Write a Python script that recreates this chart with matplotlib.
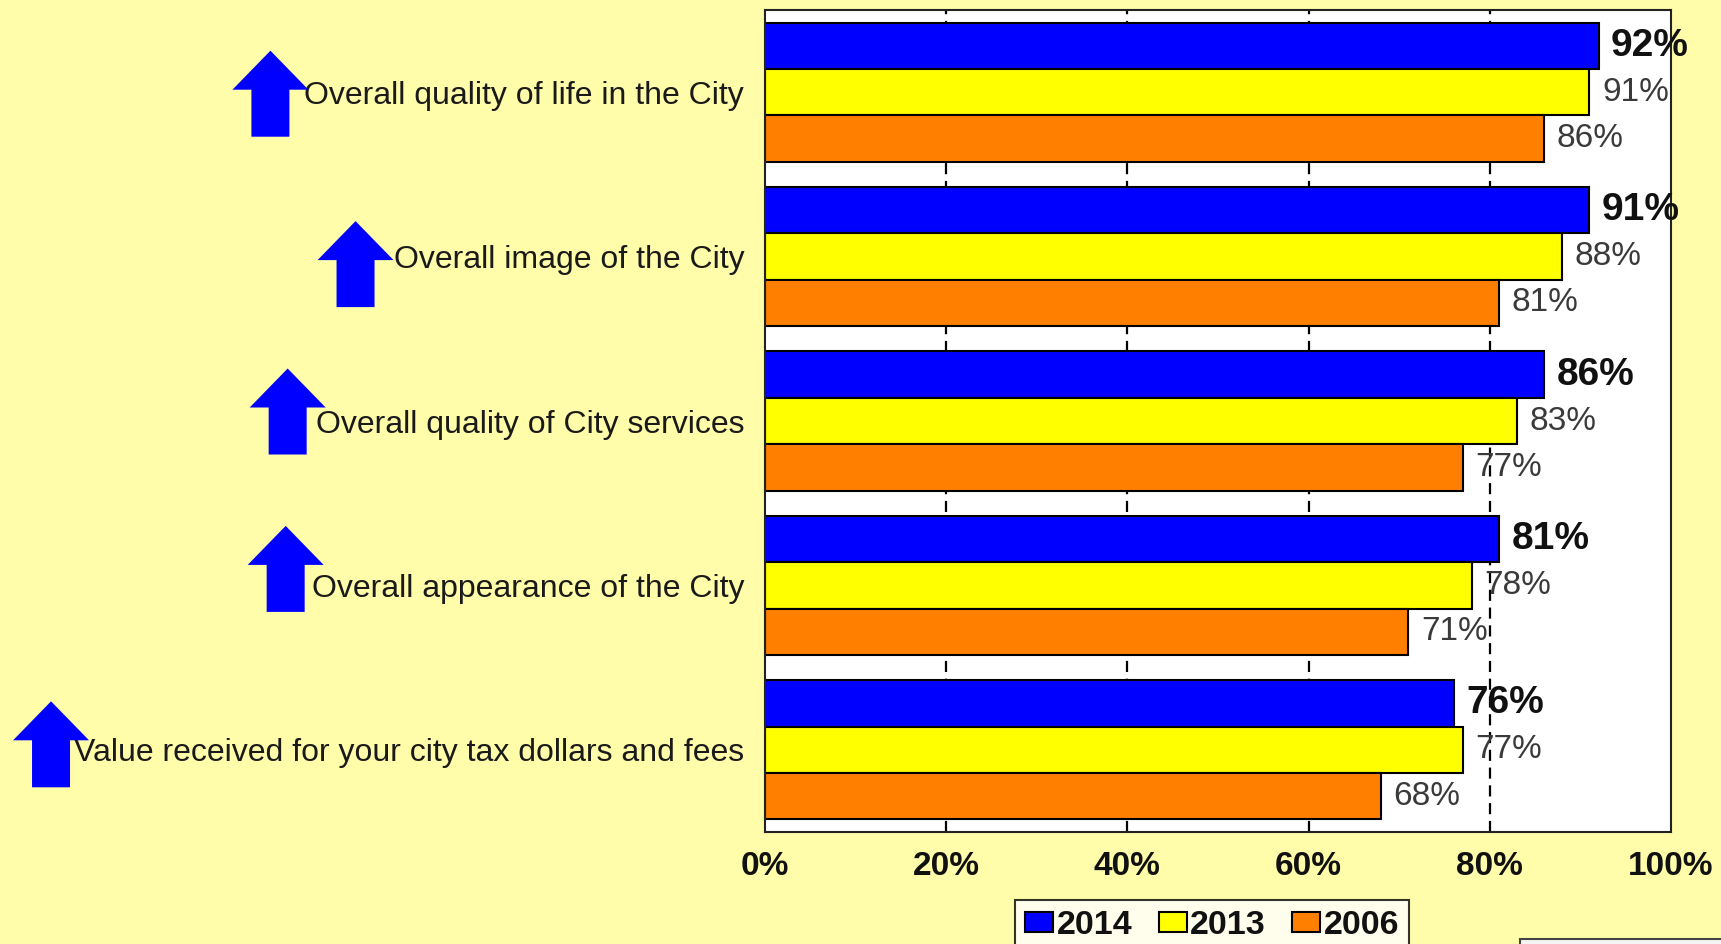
import numpy as np
import matplotlib
matplotlib.use("Agg")
import matplotlib.pyplot as plt
from matplotlib.patches import Polygon, Rectangle
from matplotlib.transforms import IdentityTransform

plt.rcParams['font.family'] = ['Liberation Sans', 'DejaVu Sans']

# survey results, top row first
categories = ['Overall quality of life in the City',
              'Overall image of the City',
              'Overall quality of City services',
              'Overall appearance of the City',
              'Value received for your city tax dollars and fees']
v2014 = [92, 91, 86, 81, 76]
v2013 = [91, 88, 83, 78, 77]
v2006 = [86, 81, 77, 71, 68]
years = ['2014', '2013', '2006']
xticks = [0, 20, 40, 60, 80, 100]

# hand nudges (px) for the trend arrows: left of label start, up from label centre
arrow_dx = [-34, -38, -28, -26, -23]
arrow_dy = [2, -4, 13, 20, 9]

bg = '#FFFDA9'
W, H = 1721, 944
fig = plt.figure(figsize=(W / 100, H / 100), dpi=100, facecolor=bg)
ax = fig.add_axes([765 / W, 112 / H, 906 / W, 822 / H])
ax.set_facecolor('white')

ypos = np.arange(len(categories))[::-1]
h = 0.282
series = [(v2014, '#0000FF', h), (v2013, '#FFFF00', 0), (v2006, '#FF8000', -h)]
bars = []
for (vals, col, off), yr in zip(series, years):
    b = ax.barh(ypos + off, vals, height=h, color=col, edgecolor='black',
                linewidth=1.5, label=yr, zorder=2)
    bars.append(b)

# value labels: 2014 in bold, the others regular
for i, (vals, col, off) in enumerate(series):
    for y, v in zip(ypos, vals):
        if i == 0:
            ax.annotate(f'{v}%', (v, y + off), xytext=(9, 0), textcoords='offset points',
                        va='center', ha='left', fontsize=28, fontweight='bold',
                        color='#111111', zorder=4)
        else:
            ax.annotate(f'{v}%', (v, y + off), xytext=(9, 0), textcoords='offset points',
                        va='center', ha='left', fontsize=24, color='#3a3a3a', zorder=4)

ax.set_xlim(0, 100)
ax.set_ylim(-0.5, len(categories) - 0.5)
ax.set_xticks(xticks)
ax.set_xticklabels([f'{t}%' for t in xticks], fontsize=24, fontweight='bold', color='#111111')
ax.set_yticks(ypos)
ax.set_yticklabels(categories, fontsize=23, color='#1a1a1a')
ax.tick_params(axis='x', length=0, pad=14)
ax.tick_params(axis='y', length=0, pad=15)

# dashed vertical gridlines behind the bars
for t in xticks[1:-1]:
    ax.axvline(t, color='black', linewidth=1.6, linestyle=(0, (5, 3)), zorder=1)

for s in ax.spines.values():
    s.set_linewidth(1.5)
    s.set_color('#222222')

leg = ax.legend(handles=bars, loc='upper left', bbox_to_anchor=(1015 / W, 1 - 900 / H),
                bbox_transform=fig.transFigure, ncol=3, frameon=True, fancybox=False,
                prop={'weight': 'bold', 'size': 24.5}, handlelength=0.82, handleheight=0.52,
                handletextpad=0.1, columnspacing=0.78, borderpad=0.3, borderaxespad=0)
leg.get_frame().set_edgecolor('black')
leg.get_frame().set_linewidth(1.5)
leg.get_frame().set_facecolor('white')
for t in leg.get_texts():
    t.set_color('#111111')

# corner of a box peeking in at the bottom right
fig.add_artist(Rectangle((1520 / W, -0.05), 0.2, 0.05 + 5 / H, transform=fig.transFigure,
                         facecolor='#f4f4f4', edgecolor='#444444', linewidth=1.5))

# blue "up" arrows in front of each category label
fig.canvas.draw()
renderer = fig.canvas.get_renderer()
for lbl, dx, dy in zip(ax.get_yticklabels(), arrow_dx, arrow_dy):
    bb = lbl.get_window_extent(renderer)
    cx = bb.x0 + dx
    cy = (bb.y0 + bb.y1) / 2 + dy
    pts = [(cx - 19, cy - 43), (cx + 19, cy - 43), (cx + 19, cy + 4), (cx + 38, cy + 4),
           (cx, cy + 43), (cx - 38, cy + 4), (cx - 19, cy + 4)]
    fig.add_artist(Polygon(pts, closed=True, facecolor='#0000FF', edgecolor='none',
                           transform=IdentityTransform(), zorder=5))

fig.savefig('out.png', dpi=100, facecolor=bg)
